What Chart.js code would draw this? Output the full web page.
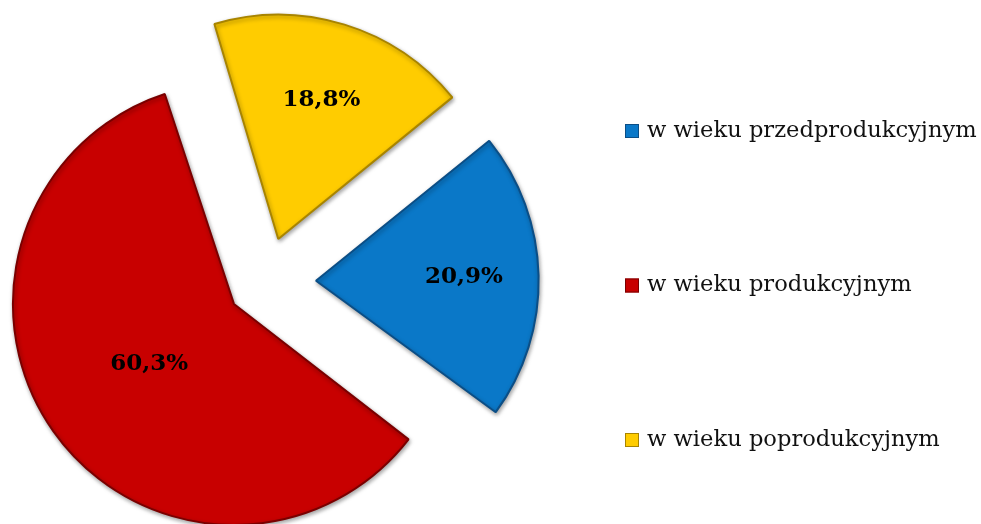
<!DOCTYPE html>
<html>
<head>
    <title>Ludność według ekonomicznych grup wieku</title>
    <script src="https://cdn.jsdelivr.net/npm/chart.js"></script>
    <style>
        body { margin: 0; background: #fff; }
        #wrap { width: 981px; height: 524px; }
    </style>
</head>
<body>
    <div id="wrap"><canvas id="myChart"></canvas></div>
    <script>
const categories = ['w wieku przedprodukcyjnym', 'w wieku produkcyjnym', 'w wieku poprodukcyjnym'];
const shares = [20.9, 60.3, 18.8];

const fillColors = ['#0A78C8', '#C80000', '#FFCC00'];
const edgeColors = ['#0B4E86', '#7A0000', '#A88400'];
const explode = [51, 38, 45];        // px each slice is pulled out
const labelDepth = [0.67, 0.47, 0.66]; // where the % label sits along the radius
const RADIUS = 221;

// legend placement (right hand column)
const LEGEND_X = 625;
const LEGEND_TOP = 131;
const LEGEND_STEP = 154.5;
const LEGEND_FONT = '22.6px "DejaVu Serif"';

// chart.js grows slices larger than half a circle by offset/4, undo that
const keepRadius = {
    id: 'keepRadius',
    afterDatasetUpdate(chart) {
        chart.getDatasetMeta(0).data.forEach(arc => {
            if (arc.circumference > Math.PI) {
                arc.outerRadius -= (arc.options.offset || 0) / 4;
            }
        });
    }
};

// soft shadow for the slices
const sliceShadow = {
    id: 'sliceShadow',
    beforeDatasetsDraw(chart) {
        const ctx = chart.ctx;
        ctx.save();
        ctx.shadowColor = 'rgba(0, 0, 0, 0.35)';
        ctx.shadowBlur = 4;
        ctx.shadowOffsetX = 1;
        ctx.shadowOffsetY = 2;
    },
    afterDatasetsDraw(chart) {
        chart.ctx.restore();
    }
};

const percentLabels = {
    id: 'percentLabels',
    afterDatasetsDraw(chart) {
        const ctx = chart.ctx;
        ctx.save();
        ctx.font = 'bold 23px "DejaVu Serif"';
        ctx.fillStyle = '#000';
        ctx.textAlign = 'center';
        ctx.textBaseline = 'middle';
        chart.getDatasetMeta(0).data.forEach((arc, i) => {
            const { x, y, startAngle, endAngle } = arc.getProps(['x', 'y', 'startAngle', 'endAngle'], true);
            const mid = (startAngle + endAngle) / 2;
            const r = explode[i] + labelDepth[i] * RADIUS;
            const text = shares[i].toFixed(1).replace('.', ',') + '%';
            ctx.fillText(text, x + Math.cos(mid) * r, y + Math.sin(mid) * r);
        });
        ctx.restore();
    }
};

// legend column with big gaps, the built-in one wraps into columns
const sideLegend = {
    id: 'sideLegend',
    afterDraw(chart) {
        const ctx = chart.ctx;
        const ds = chart.data.datasets[0];
        ctx.save();
        ctx.font = LEGEND_FONT;
        ctx.textBaseline = 'middle';
        ctx.textAlign = 'left';
        chart.data.labels.forEach((label, i) => {
            const y = LEGEND_TOP + i * LEGEND_STEP;
            ctx.fillStyle = ds.backgroundColor[i];
            ctx.fillRect(LEGEND_X, y - 7, 14, 14);
            ctx.strokeStyle = ds.borderColor[i];
            ctx.lineWidth = 1;
            ctx.strokeRect(LEGEND_X + 0.5, y - 6.5, 13, 13);
            ctx.fillStyle = '#111';
            ctx.fillText(label, LEGEND_X + 22, y);
        });
        ctx.restore();
    }
};

const ctx = document.getElementById('myChart').getContext('2d');

const chart = new Chart(ctx, {
    type: 'pie',
    data: {
        labels: categories,
        datasets: [{
            data: shares,
            backgroundColor: fillColors,
            borderColor: edgeColors,
            borderWidth: 2,
            offset: explode.map(d => d * 4)
        }]
    },
    options: {
        responsive: true,
        maintainAspectRatio: false,
        animation: false,
        rotation: 51,
        radius: RADIUS,
        layout: {
            padding: { left: 0, right: 451, top: 40, bottom: 0 }
        },
        plugins: {
            tooltip: { enabled: false },
            legend: { display: false }
        }
    },
    plugins: [keepRadius, sliceShadow, percentLabels, sideLegend]
});
    </script>
</body>
</html>
